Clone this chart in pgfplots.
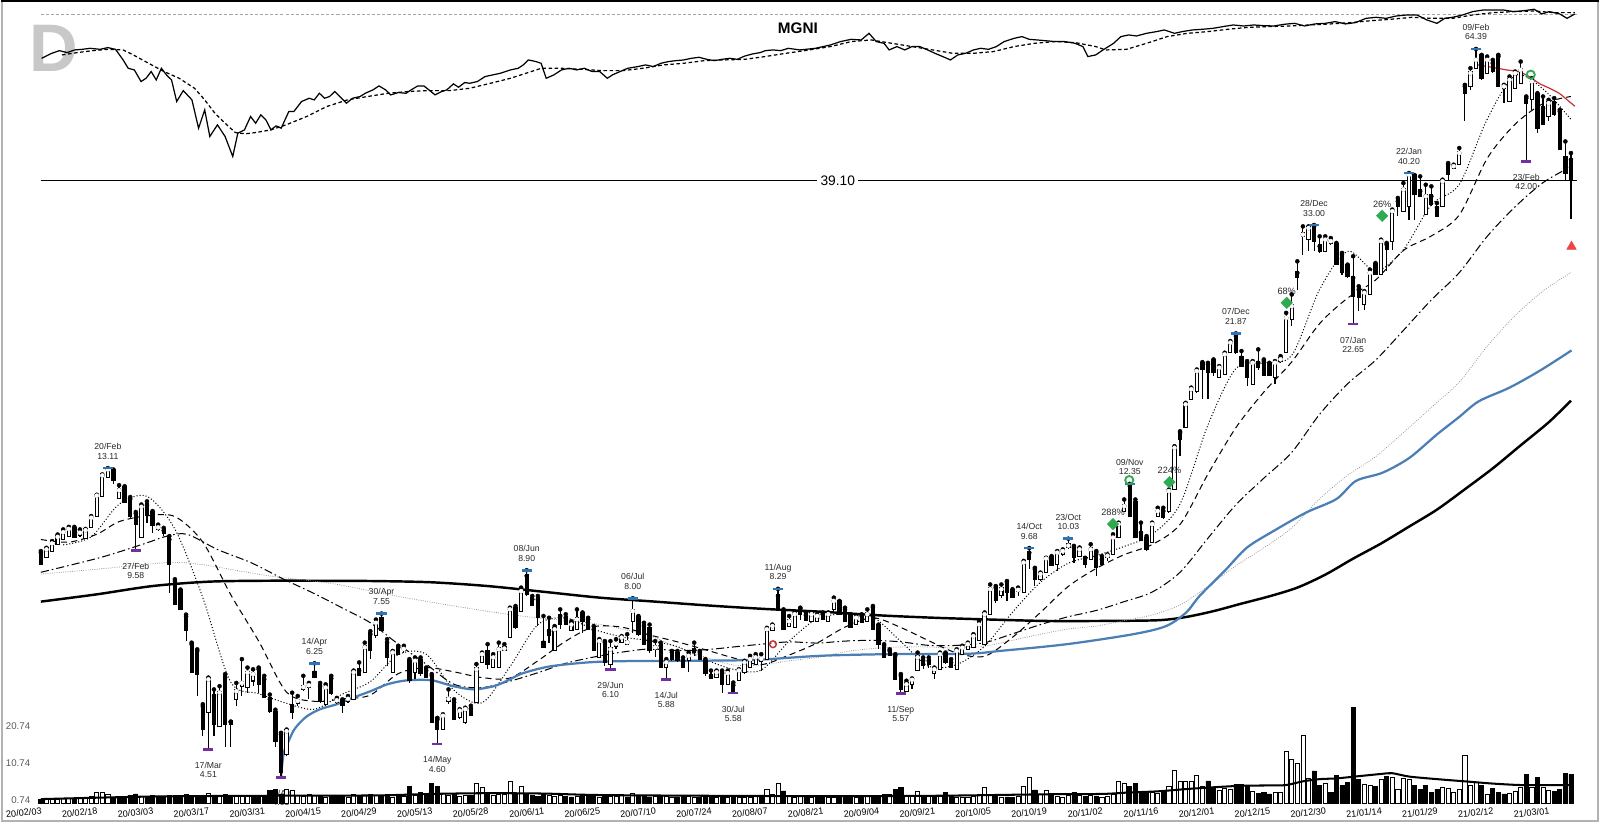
\documentclass[border=0pt]{standalone}
\usepackage{fontspec}
\setmainfont{Liberation Sans}
\usepackage{pgfplots}
\usepackage{pgfplotstable}
\pgfplotsset{compat=1.18}
\definecolor{hiblue}{RGB}{46,117,182}
\definecolor{lopurple}{RGB}{112,48,160}
\definecolor{vwap}{RGB}{74,126,181}
\definecolor{sigred}{RGB}{200,50,50}
\definecolor{trired}{RGB}{235,70,70}
\definecolor{siggreen}{RGB}{46,170,80}
\definecolor{lettergray}{RGB}{200,200,200}
\definecolor{labgray}{RGB}{40,40,40}
\newcommand\lbl{\fontsize{8.5}{10}\selectfont}

\pgfplotstableread{
i o h l c v u
0 9.51 9.57 9.07 9.16 1.1 0
1 9.41 9.69 9.33 9.63 1.2 1
2 9.63 9.94 9.57 9.85 1.0 1
3 9.88 10.19 9.85 10.10 1.2 1
4 10.06 10.39 10.00 10.28 1.3 1
5 10.19 10.49 10.15 10.41 1.4 1
6 10.41 10.49 10.06 10.13 1.3 0
7 10.22 10.39 10.10 10.26 1.5 1
8 10.10 10.41 10.06 10.36 1.4 1
9 10.54 10.93 10.52 10.86 2.0 1
10 10.97 11.85 10.93 11.81 2.9 1
11 11.85 12.80 11.75 12.75 3.0 1
12 12.72 13.11 12.64 13.04 2.6 1
13 12.96 13.04 12.33 12.57 1.8 0
14 11.75 12.29 11.71 12.06 1.6 0
15 12.17 12.24 11.49 11.56 1.9 0
16 11.66 11.75 10.79 11.00 2.2 0
17 11.03 11.10 9.58 10.65 2.6 0
18 10.13 11.42 10.06 11.32 2.0 1
19 11.40 11.56 10.65 11.04 1.8 0
20 11.04 11.14 10.26 10.62 2.1 0
21 10.45 10.58 10.32 10.47 1.7 0
22 10.35 10.45 10.13 10.30 1.9 0
23 10.00 10.13 8.17 9.16 2.3 0
24 8.54 8.60 7.82 7.87 2.2 0
25 8.22 8.27 7.67 7.72 2.0 0
26 7.47 7.52 6.80 7.11 2.4 0
27 6.72 6.76 6.03 6.07 2.1 0
28 6.55 6.59 5.52 6.03 2.3 0
29 5.31 5.35 4.74 4.89 2.0 0
30 5.21 5.92 4.51 5.88 2.8 1
31 5.52 5.66 4.74 4.98 2.2 0
32 4.95 5.73 4.92 5.59 2.0 1
33 5.92 6.00 4.54 4.98 2.4 0
34 5.00 5.01 4.54 4.98 1.9 0
35 5.48 5.80 5.31 5.62 2.1 1
36 5.75 6.35 5.52 5.80 2.0 1
37 5.73 6.15 5.59 6.03 2.3 1
38 5.88 6.11 5.73 6.00 1.8 0
39 6.11 6.15 5.59 5.80 2.0 0
40 5.88 5.96 5.48 5.52 2.2 0
41 5.45 5.55 5.17 5.24 3.5 0
42 5.17 5.24 4.54 4.68 3.9 0
43 4.77 4.80 4.05 4.15 2.6 0
44 4.45 4.86 4.40 4.83 3.9 1
45 5.31 5.59 5.05 5.21 3.6 1
46 5.40 5.52 5.31 5.42 2.2 1
47 5.70 5.96 5.62 5.71 2.0 1
48 5.73 5.80 5.45 5.75 2.4 1
49 6.03 6.25 5.92 5.96 2.2 1
50 5.73 5.80 5.38 5.45 2.0 0
51 5.38 5.77 5.32 5.70 1.8 1
52 5.90 5.96 5.55 5.60 2.3 0
53 5.41 5.48 5.35 5.43 1.9 0
54 5.42 5.45 5.18 5.35 2.1 0
55 5.44 5.52 5.38 5.46 1.7 1
56 5.48 6.08 5.45 6.04 2.4 1
57 6.08 6.27 5.96 6.00 2.0 0
58 6.08 6.76 6.04 6.64 2.2 1
59 6.98 7.06 6.35 6.59 2.5 0
60 6.98 7.38 6.89 7.29 2.3 1
61 7.40 7.55 7.06 7.11 2.1 0
62 6.76 6.85 6.19 6.43 2.0 0
63 6.08 6.55 6.04 6.51 1.8 1
64 6.64 6.68 6.47 6.51 2.2 0
65 6.59 6.68 6.51 6.60 1.9 1
66 6.27 6.35 5.81 5.89 4.6 0
67 6.08 6.39 5.89 6.31 2.1 1
68 6.31 6.39 5.96 6.04 3.0 0
69 6.08 6.15 5.92 5.96 2.2 0
70 5.96 6.00 4.99 5.02 5.5 0
71 5.05 5.08 4.60 4.90 4.6 0
72 4.90 5.15 4.87 5.12 2.8 1
73 5.44 5.66 5.35 5.46 2.2 1
74 5.39 5.45 5.05 5.08 2.6 0
75 5.12 5.25 5.05 5.22 2.0 1
76 5.02 5.28 4.96 5.25 2.3 1
77 5.26 5.32 5.12 5.15 2.1 0
78 5.41 6.23 5.38 6.11 5.4 1
79 6.31 6.51 6.27 6.47 4.3 1
80 6.51 6.72 6.11 6.27 2.4 0
81 6.19 6.47 6.15 6.39 2.2 1
82 6.19 6.76 6.15 6.59 2.5 1
83 6.60 6.72 6.55 6.61 2.6 1
84 6.93 7.72 6.89 7.67 5.9 1
85 7.67 7.77 7.11 7.20 2.8 0
86 7.67 8.33 7.58 8.22 4.6 1
87 8.71 8.90 8.07 8.17 2.5 0
88 7.97 8.07 7.77 7.82 2.3 0
89 7.97 8.07 7.20 7.48 2.0 0
90 6.76 7.48 6.64 6.68 2.4 0
91 7.06 7.43 6.76 6.98 2.1 1
92 6.59 7.20 6.55 7.11 1.9 1
93 7.48 7.67 7.11 7.29 2.2 1
94 7.43 7.53 7.24 7.29 2.0 0
95 7.11 7.33 7.06 7.24 1.8 0
96 7.15 7.67 7.11 7.38 2.0 1
97 7.53 7.58 7.02 7.38 2.2 0
98 7.38 7.43 7.11 7.15 1.9 0
99 7.11 7.20 6.55 6.59 2.1 0
100 6.43 6.85 6.39 6.80 1.8 1
101 6.76 6.80 6.19 6.31 2.3 0
102 6.27 6.80 6.10 6.59 2.0 1
103 6.70 6.85 6.59 6.73 1.9 1
104 6.80 6.93 6.76 6.89 2.6 1
105 6.75 6.98 6.70 6.77 1.8 0
106 7.38 8.00 7.02 7.62 2.8 1
107 7.43 7.48 6.93 7.02 2.2 0
108 7.20 7.29 6.72 6.76 2.0 0
109 7.11 7.24 6.51 6.59 1.8 0
110 6.62 6.80 6.39 6.64 2.0 1
111 6.68 6.76 6.15 6.19 2.3 0
112 6.19 6.35 5.88 6.27 1.9 1
113 6.51 6.55 6.31 6.39 1.7 1
114 6.47 6.55 6.27 6.35 1.8 0
115 6.31 6.39 6.15 6.19 2.0 0
116 6.35 6.51 6.04 6.43 1.9 1
117 6.56 6.76 6.43 6.55 1.6 1
118 6.51 6.55 6.35 6.39 1.8 0
119 6.27 6.35 5.96 6.04 2.1 0
120 5.95 6.08 5.89 5.94 1.7 0
121 5.96 6.08 5.92 6.04 1.6 1
122 6.02 6.08 5.59 5.81 1.9 0
123 5.81 6.08 5.77 6.02 1.8 1
124 5.75 5.81 5.58 5.66 2.0 0
125 5.89 6.11 5.85 6.08 1.7 1
126 6.08 6.31 6.00 6.27 1.6 1
127 6.19 6.43 6.15 6.35 1.8 1
128 6.27 6.47 6.23 6.39 1.9 1
129 6.34 6.47 6.08 6.36 2.0 0
130 6.39 7.15 6.35 7.11 3.9 1
131 7.11 7.24 7.06 7.20 2.4 1
132 8.07 8.29 7.67 7.72 5.5 1
133 7.62 7.67 7.11 7.15 3.4 0
134 7.24 7.48 7.20 7.33 2.0 1
135 7.20 7.58 7.15 7.53 1.8 1
136 7.69 7.72 7.38 7.58 1.9 1
137 7.50 7.58 7.33 7.40 1.7 0
138 7.38 7.58 7.33 7.53 1.6 1
139 7.38 7.53 7.33 7.48 1.8 0
140 7.53 7.58 7.38 7.43 1.7 0
141 7.38 7.58 7.33 7.53 1.6 1
142 7.72 8.02 7.62 7.92 1.8 1
143 7.87 7.92 7.53 7.58 1.9 0
144 7.67 7.72 7.33 7.38 1.7 0
145 7.48 7.53 7.15 7.20 1.8 0
146 7.29 7.48 7.24 7.43 1.6 1
147 7.48 7.53 7.29 7.33 1.7 0
148 7.38 7.67 7.33 7.53 1.9 1
149 7.72 7.77 7.11 7.15 2.0 0
150 7.20 7.24 6.59 6.76 2.2 0
151 6.68 6.72 6.39 6.43 2.4 0
152 6.55 6.59 6.43 6.47 2.6 1
153 6.43 6.47 5.89 5.92 3.9 0
154 5.96 6.00 5.57 5.70 4.3 0
155 5.66 5.85 5.62 5.77 2.0 1
156 5.80 5.90 5.66 5.87 2.2 1
157 6.11 6.51 6.08 6.39 3.4 1
158 6.31 6.39 6.11 6.23 2.0 0
159 6.31 6.39 6.15 6.27 2.2 1
160 6.04 6.15 5.89 6.11 1.8 0
161 6.15 6.51 6.11 6.47 2.0 1
162 6.47 6.51 6.23 6.31 3.0 0
163 6.27 6.35 6.15 6.19 1.9 0
164 6.15 6.59 6.11 6.55 1.6 1
165 6.51 6.68 6.47 6.63 1.8 1
166 6.63 6.76 6.59 6.72 1.7 1
167 6.68 6.98 6.63 6.93 1.9 1
168 6.85 7.34 6.80 7.24 2.1 1
169 6.76 7.58 6.72 7.53 4.3 1
170 7.58 8.43 7.53 8.28 2.5 1
171 8.33 8.38 7.87 7.97 2.0 0
172 8.12 8.43 8.02 8.28 1.7 1
173 8.51 8.54 7.92 8.23 1.8 0
174 8.23 8.28 8.02 8.07 1.6 0
175 8.25 8.33 8.07 8.26 2.0 1
176 8.23 9.22 8.17 9.16 4.6 1
177 9.51 9.68 8.93 9.33 7.0 1
178 8.93 8.98 8.38 8.66 3.7 0
179 8.66 8.82 8.54 8.77 2.4 1
180 8.88 9.33 8.82 9.30 3.7 1
181 9.33 9.39 9.04 9.10 2.2 0
182 9.16 9.57 8.88 9.51 2.0 1
183 9.49 9.63 9.39 9.57 1.8 1
184 9.75 10.03 9.63 9.77 2.3 1
185 9.70 9.76 9.16 9.39 3.0 0
186 9.45 9.70 9.39 9.63 2.1 1
187 9.30 9.33 8.98 9.16 1.9 0
188 9.33 9.82 9.28 9.63 2.2 1
189 9.51 9.57 8.71 9.04 2.0 0
190 9.28 9.39 9.10 9.16 1.8 1
191 9.38 9.45 9.22 9.40 2.0 1
192 9.51 10.20 9.45 10.07 2.5 1
193 10.13 10.66 10.07 10.60 5.9 1
194 11.21 11.64 11.14 11.35 5.5 1
195 12.25 12.35 10.93 11.00 4.6 0
196 11.50 11.64 10.07 10.13 5.5 0
197 10.26 10.66 9.95 10.01 3.0 0
198 10.01 10.13 9.57 9.70 2.8 0
199 9.95 10.66 9.88 10.60 3.1 1
200 11.00 11.28 10.93 11.14 2.7 1
201 11.14 11.28 10.80 10.93 3.0 0
202 11.21 12.09 11.07 12.02 4.6 1
203 12.17 14.25 12.09 14.16 9.1 1
204 14.99 15.08 13.72 14.71 5.9 1
205 15.37 16.80 15.28 16.70 6.1 1
206 17.14 17.80 17.03 17.69 5.9 1
207 17.65 19.07 17.46 18.95 7.5 1
208 19.44 19.61 17.03 19.20 4.6 1
209 19.44 19.56 17.03 18.95 6.1 0
210 19.69 19.81 18.60 18.95 4.0 0
211 18.60 19.32 18.48 19.20 3.6 1
212 18.83 20.32 18.72 20.19 4.1 1
213 20.45 21.24 20.32 21.11 3.9 1
214 21.65 21.87 20.19 20.45 5.2 0
215 19.94 20.45 19.32 19.44 5.2 0
216 19.56 19.69 17.91 18.60 5.0 0
217 18.14 19.69 18.02 19.56 3.3 1
218 19.56 20.58 19.07 19.32 2.8 0
219 19.69 19.81 18.60 18.72 3.0 0
220 19.44 19.56 18.60 18.72 2.6 0
221 18.60 19.69 18.02 19.56 3.1 1
222 19.80 20.06 19.56 19.82 2.9 1
223 20.45 23.64 20.32 23.20 14.0 1
224 23.20 25.35 22.48 24.25 12.0 1
225 27.51 28.75 25.83 27.17 10.9 1
226 31.80 32.83 29.49 31.82 18.3 1
227 31.41 32.83 29.87 32.62 6.8 1
228 32.83 33.00 29.87 31.21 8.8 0
229 30.44 31.61 29.68 30.06 4.9 0
230 30.06 31.61 29.87 31.21 5.5 1
231 31.00 31.41 30.63 31.04 3.1 0
232 30.63 30.83 28.39 28.57 7.5 0
233 29.49 29.68 27.34 27.69 4.8 0
234 28.22 28.39 27.00 27.34 5.7 0
235 27.00 29.31 22.65 25.35 25.9 0
236 25.83 26.15 23.79 25.18 6.6 0
237 24.56 25.67 23.94 25.51 5.2 1
238 25.51 27.86 25.35 27.51 4.9 1
239 28.39 28.57 27.34 27.51 4.6 0
240 27.51 31.21 27.34 31.02 6.6 1
241 30.63 30.83 27.69 30.25 7.3 0
242 31.23 34.99 30.07 34.77 7.0 1
243 36.11 36.57 34.11 35.66 3.9 1
244 34.99 38.70 34.77 37.74 6.8 1
245 35.66 40.20 33.69 39.95 6.6 1
246 39.69 39.90 33.69 37.26 4.8 0
247 37.50 39.69 36.80 37.03 3.9 0
248 34.55 38.46 34.33 36.80 4.9 0
249 36.80 38.22 35.43 35.88 3.0 0
250 35.21 35.88 34.11 34.33 3.8 0
251 35.66 39.20 35.43 38.95 4.3 1
252 41.49 41.75 39.20 40.20 4.1 1
253 41.22 41.49 40.97 41.25 3.0 1
254 41.75 44.20 41.49 43.37 3.9 1
255 55.83 56.18 48.90 54.78 13.1 1
256 56.18 59.85 55.13 58.73 4.9 1
257 60.23 64.39 59.85 61.77 5.7 1
258 62.56 62.96 57.26 57.99 4.8 0
259 59.10 62.56 58.73 61.77 2.6 1
260 61.00 61.77 58.73 59.47 4.1 0
261 62.56 62.96 55.83 56.18 3.0 0
262 55.80 56.18 52.42 55.85 2.6 0
263 53.08 57.99 52.75 57.26 2.8 1
264 55.83 59.10 55.48 58.73 3.3 1
265 56.90 61.38 56.54 59.47 4.3 1
266 53.42 53.76 42.00 52.75 7.9 0
267 53.42 57.62 51.11 56.90 4.3 1
268 54.10 54.44 46.78 47.98 7.0 0
269 51.43 53.76 48.28 48.59 4.3 1
270 50.15 53.08 48.90 52.42 3.5 1
271 52.42 53.42 49.83 50.47 3.2 0
272 50.79 51.11 43.92 44.20 3.9 0
273 42.55 45.32 38.95 40.45 8.2 0
274 42.28 43.37 33.77 39.45 7.9 0
}\candles

\pgfplotsset{
  frame/.style={width=1568pt, height=806pt, scale only axis,
    at={(0pt,0pt)}, anchor=south west,
    xmin=-7.174, xmax=279.06, axis line style={draw=none}, clip=false},
  hilab/.style={only marks, mark=none, forget plot, nodes near coords,
    point meta=explicit symbolic,
    nodes near coords style={font=\lbl, text=labgray, anchor=base, inner sep=0pt, yshift=#1}},
}

\begin{document}
\begin{tikzpicture}
%================ PRICE =================
\begin{axis}[frame, ymode=log, ymin=3.4266, ymax=77.546, ticks=none]
% 200-day
\addplot[black, line width=2.4pt, smooth] coordinates {
(0,7.9) (10,8.12) (20,8.38) (30,8.52) (40,8.55) (50,8.55) (60,8.54) (70,8.50) (80,8.38) (90,8.20)
(100,8.02) (110,7.90) (120,7.78) (130,7.68) (140,7.60) (150,7.50) (160,7.43) (170,7.38) (180,7.34)
(190,7.34) (200,7.36) (205,7.45) (210,7.62) (215,7.84) (220,8.06) (225,8.33) (230,8.75) (235,9.30)
(240,9.85) (245,10.5) (250,11.2) (255,12.1) (260,13.1) (265,14.3) (270,15.6) (274,16.94)};
% 100-day (gray dotted)
\addplot[gray!85, line width=0.75pt, dash pattern=on 0.8pt off 1.4pt, smooth] coordinates {
(0,8.77) (11,8.95) (22.6,9.16) (28.6,9.10) (40.5,8.72) (52.5,8.45) (62,8.12) (74,7.77) (86,7.48)
(99,7.27) (104,7.12) (109,6.94) (114,6.64) (119,6.40) (124,6.21) (129,6.21) (134,6.31) (139,6.39)
(144,6.53) (149,6.61) (154,6.65) (159,6.65) (164,6.62) (169,6.67) (174,6.82) (179,6.98) (184,7.12)
(189,7.20) (194,7.35) (199,7.51) (204,7.80) (209,8.37) (214,9.05) (219,9.69) (224,10.45) (229,11.67)
(234,12.76) (239,13.69) (244,15.01) (249,16.51) (254,18.18) (259,20.83) (264,23.39) (269,25.69) (274,27.55)};
% 50-day (dash-dot)
\addplot[black, line width=1pt, dash pattern=on 8pt off 3pt on 1.5pt off 3pt, smooth] coordinates {
(0,8.83) (10.7,9.34) (18.5,9.84) (22.6,10.13) (26.2,10.2) (31.6,9.63) (37.6,9.16) (43.5,8.6)
(49,8.14) (54,7.71) (59,7.29) (64,6.72) (69,6.23) (74,5.77) (79,5.70) (84,5.84) (89,6.03) (94,6.25)
(99,6.40) (104,6.52) (109,6.60) (114,6.56) (119,6.58) (124,6.65) (129,6.72) (134,6.78) (139,6.75)
(144,6.80) (149,6.82) (154,6.78) (159,6.69) (164,6.69) (169,6.76) (174,6.99) (179,7.24) (184,7.46)
(189,7.64) (194,7.90) (199,8.19) (204,8.83) (209,10.05) (214,11.41) (219,12.62) (224,13.92)
(229,16.09) (234,18.06) (239,19.75) (244,22.12) (249,24.83) (254,27.54) (259,31.61) (264,35.36)
(269,38.76) (274,41.19)};
% 20-day (dashed)
\addplot[black, line width=1pt, dash pattern=on 6pt off 4pt, smooth] coordinates {
(0,10.0) (5,9.9) (10,10.2) (14,10.7) (19,10.94) (24,10.91) (29,9.90) (34,8.11) (39,6.80) (44,5.60)
(49,5.41) (54,5.46) (59,5.54) (64,6.01) (69,6.15) (74,6.05) (79,5.92) (84,5.91) (89,6.31) (94,6.80)
(99,7.18) (104,7.17) (109,6.96) (114,6.78) (119,6.58) (124,6.38) (129,6.22) (134,6.45) (139,6.75)
(144,7.17) (149,7.43) (154,7.16) (159,6.81) (164,6.50) (169,6.42) (174,6.90) (179,7.58) (184,8.37)
(189,8.96) (194,9.44) (199,9.81) (204,10.59) (209,12.82) (214,15.29) (219,17.50) (224,19.63)
(229,22.70) (234,25.00) (239,26.77) (244,29.96) (249,31.66) (254,34.28) (259,42.48) (264,48.38)
(269,52.32) (274,53.76)};
% 10-day (dotted)
\addplot[black, line width=1pt, dash pattern=on 1pt off 2pt, smooth] coordinates {
(4,9.8) (9,10.10) (14,11.43) (19,11.78) (24,10.40) (29,8.02) (34,5.82) (39,5.57) (44,5.37) (49,5.25)
(54,5.56) (59,5.83) (64,6.46) (69,6.47) (74,5.64) (79,5.38) (84,6.17) (89,7.24) (94,7.42) (99,7.11)
(104,6.91) (109,6.81) (114,6.66) (119,6.34) (124,6.11) (129,6.09) (134,6.80) (139,7.40) (144,7.54)
(149,7.45) (154,6.79) (159,6.18) (164,6.22) (169,6.67) (174,7.59) (179,8.50) (184,9.14) (189,9.41)
(194,9.74) (199,10.20) (204,11.44) (209,15.45) (214,19.14) (219,19.55) (224,20.12) (229,25.84)
(234,29.87) (239,27.69) (244,30.05) (249,35.64) (254,38.50) (259,49.31) (264,58.25) (269,55.32) (274,49.27)};
% anchored line from the April low
\addplot[vwap, line width=2.2pt, smooth] coordinates {
(43,4.05) (43.5,4.45) (44.5,4.68) (45.5,4.88) (47.5,5.10) (50,5.25) (53,5.35) (56,5.49) (59,5.62)
(62,5.77) (65,5.85) (68,5.87) (70.4,5.85) (73.9,5.73) (77.5,5.66) (81.1,5.73) (83.5,5.85) (85.9,6.0)
(88.8,6.11) (91.8,6.19) (97.8,6.27) (103.7,6.30) (115.7,6.31) (127.6,6.33) (139.5,6.43) (151.5,6.47)
(165.8,6.48) (171.7,6.55) (183.7,6.72) (195.6,6.98) (201.5,7.20) (205.1,7.58) (207.5,8.07) (212,8.88)
(216,9.7) (221,10.36) (226.6,11.08) (232,11.66) (235.5,12.49) (240.3,12.89) (245.1,13.64) (250,14.9)
(253.9,15.9) (257.5,16.9) (263,17.8) (268.5,19.0) (274.1,20.5)};
% anchored line from the February high
\addplot[sigred, line width=1.2pt, smooth] coordinates {
(257.3,60.6) (259.2,60.2) (261,59.8) (262.8,59.4) (264.6,59.1) (266.5,58.0) (268.3,56.5)
(270.1,55.5) (271.9,54.4) (273.3,53.1) (274.7,51.8)};
% 39.10 level
\addplot[black, line width=0.8pt] coordinates {(0,39.1) (275,39.1)};
\addplot[only marks, mark=none, nodes near coords, point meta=explicit symbolic,
  nodes near coords style={font=\fontsize{13.5}{14}\selectfont, fill=white, anchor=center, inner sep=3pt}]
  coordinates {(142.7,39.1) [39.10]};
% wicks
\addplot[black, only marks, mark=none, forget plot,
  error bars/.cd, y dir=minus, y explicit, error mark=none,
  error bar style={line width=1.1pt, black}]
  table[x=i, y=h, y error minus expr=\thisrow{h}-\thisrow{l}] {\candles};
% down bodies
\addplot[black, only marks, mark=none, forget plot,
  restrict expr to domain={\thisrow{c}-\thisrow{o}}{-1000:-0.000001},
  error bars/.cd, y dir=minus, y explicit, error mark=none,
  error bar style={line width=4.2pt, black, line cap=rect}]
  table[x=i, y=o, y error minus expr=\thisrow{o}-\thisrow{c}] {\candles};
% up bodies
\addplot[black, only marks, mark=none, forget plot,
  restrict expr to domain={\thisrow{c}-\thisrow{o}}{0:1000},
  error bars/.cd, y dir=minus, y explicit, error mark=none,
  error bar style={line width=4.2pt, black, line cap=rect}]
  table[x=i, y=c, y error minus expr=\thisrow{c}-\thisrow{o}] {\candles};
\addplot[white, only marks, mark=none, forget plot,
  restrict expr to domain={\thisrow{c}-\thisrow{o}}{0:1000},
  error bars/.cd, y dir=minus, y explicit, error mark=none,
  error bar style={line width=2.2pt, white, line cap=rect}]
  table[x=i, y=c, y error minus expr=\thisrow{c}-\thisrow{o}] {\candles};
% swing highs
\addplot[hiblue, only marks, mark=-, mark size=5pt, every mark/.append style={line width=2.6pt}, forget plot]
 coordinates {(12,13.11) (49,6.25) (61,7.55) (87,8.90) (106,8.00) (132,8.29) (177,9.68) (184,10.03)
 (195,12.35) (214,21.87) (228,33.00) (245,40.20) (257,64.39)};
\addplot[hilab=18.3pt] coordinates {(12,13.11) [20/Feb] (49,6.25) [14/Apr] (61,7.55) [30/Apr]
 (87,8.90) [08/Jun] (106,8.00) [06/Jul] (132,8.29) [11/Aug] (177,9.68) [14/Oct] (184,10.03) [23/Oct]
 (195,12.35) [09/Nov] (214,21.87) [07/Dec] (228,33.00) [28/Dec] (245,40.20) [22/Jan] (257,64.39) [09/Feb]};
\addplot[hilab=8.8pt] coordinates {(12,13.11) [13.11] (49,6.25) [6.25] (61,7.55) [7.55]
 (87,8.90) [8.90] (106,8.00) [8.00] (132,8.29) [8.29] (177,9.68) [9.68] (184,10.03) [10.03]
 (195,12.35) [12.35] (214,21.87) [21.87] (228,33.00) [33.00] (245,40.20) [40.20] (257,64.39) [64.39]};
% swing lows
\addplot[lopurple, only marks, mark=-, mark size=5pt, every mark/.append style={line width=2.6pt}, forget plot]
 coordinates {(17,9.58) (30,4.51) (43,4.05) (71,4.60) (102,6.10) (112,5.88) (124,5.58) (154,5.57)
 (235,22.65) (266,42.00)};
\addplot[hilab=-18.5pt] coordinates {(17,9.58) [27/Feb] (30,4.51) [17/Mar] (43,4.05) [02/Apr]
 (71,4.60) [14/May] (102,6.10) [29/Jun] (112,5.88) [14/Jul] (124,5.58) [30/Jul] (154,5.57) [11/Sep]
 (235,22.65) [07/Jan] (266,42.00) [23/Feb]};
\addplot[hilab=-27.5pt] coordinates {(17,9.58) [9.58] (30,4.51) [4.51] (43,4.05) [4.05]
 (71,4.60) [4.60] (102,6.10) [6.10] (112,5.88) [5.88] (124,5.58) [5.58] (154,5.57) [5.57]
 (235,22.65) [22.65] (266,42.00) [42.00]};
% signals
\addplot[siggreen, only marks, mark=square*, mark size=4pt, mark options={rotate=45}, forget plot]
 coordinates {(192,10.6) (202.1,12.43) (223.1,24.56) (240.2,34.18)};
\addplot[only marks, mark=none, forget plot, nodes near coords, point meta=explicit symbolic,
  nodes near coords style={font=\fontsize{9}{10}\selectfont, text=labgray, anchor=base, inner sep=0pt, yshift=8.5pt}]
 coordinates {(192,10.6) [288\%] (202.1,12.43) [224\%] (223.1,24.56) [68\%] (240.2,34.18) [26\%]};
\addplot[siggreen, only marks, mark=o, mark size=4pt, every mark/.append style={line width=1.8pt}, forget plot]
 coordinates {(194.9,12.53) (266.8,58.4)};
\addplot[sigred, only marks, mark=o, mark size=3.3pt, every mark/.append style={line width=1.4pt}, forget plot]
 coordinates {(131.1,6.72)};
\addplot[trired, only marks, mark=triangle*, mark size=5.5pt, forget plot] coordinates {(274.1,30.4)};
\end{axis}

%================ RELATIVE STRENGTH PANE =================
\begin{axis}[frame, ymin=-646, ymax=160, ticks=none]
\node[font=\fontsize{66}{66}\selectfont\bfseries, text=lettergray, inner sep=0pt] at (rel axis cs:0.03316,0.9411) {D};
\node[font=\fontsize{15}{15}\selectfont\bfseries, inner sep=0pt] at (rel axis cs:0.4987,0.9653) {MGNI};
\addplot[gray!70, line width=1pt, dash pattern=on 3pt off 2pt] coordinates {(0,145.3) (275,145.3)};
\addplot[black, line width=1.2pt, dash pattern=on 3.5pt off 2.5pt] coordinates {
(3.78,106.1) (6.52,108.4) (9.26,110.3) (12.0,111.6) (14.73,111.0) (16.56,106.1) (19.3,97.9) (22.04,89.8)
(24.77,83.2) (27.51,73.4) (29.34,62.0) (31.16,48.9) (32.99,39.1) (34.8,30.0) (36.6,28.7) (38.5,30.0)
(41.2,32.6) (43.9,37.5) (47.6,45.7) (51.2,55.5) (54.9,62.0) (58.5,65.3) (62.2,68.5) (65.8,70.2)
(69.5,71.1) (73.2,71.1) (76.8,73.4) (80.5,78.3) (84.1,83.2) (87.8,89.8) (89.6,93.0) (93.2,93.0)
(96.9,92.0) (100.5,90.7) (104.2,90.7) (107.8,93.0) (111.5,96.3) (115.1,97.9) (118.8,100.5) (122.4,101.2)
(126.1,101.8) (129.7,104.5) (133.4,107.7) (137,110.5) (141.4,114.3) (145.1,119.2) (148.7,120.8)
(152.4,117.5) (156.0,114.3) (159.7,111.0) (163.3,107.7) (167.0,107.7) (170.6,109.4) (174.3,114.3)
(177.9,117.5) (181.6,119.2) (185.2,118.2) (188.9,114.3) (190.7,111.0) (194.4,111.6) (198.0,117.5)
(201.7,124.1) (205.3,127.3) (209.0,129.0) (212.6,131.3) (216.3,133.2) (219.9,133.9) (223.6,134.5)
(227.2,135.5) (230.9,136.5) (234.5,137.8) (238.2,139.7) (241.8,141.1) (245.5,143.0) (249.1,142.0)
(252.8,142.0) (256.4,145.3) (260.1,147.6) (263.7,148.6) (267.4,149.2) (271.0,147.6) (274.7,147.6)};
\addplot[black, line width=1.2pt] coordinates {
(0.13,102.8) (1.95,107.7) (3.32,110.3) (4.69,108.4) (6.06,111.0) (7.43,111.6) (8.80,112.6) (10.62,111.6)
(11.99,113.3) (13.36,111.6) (14.73,101.2) (15.64,93.0) (16.74,91.4) (17.93,80.0) (18.84,83.2) (19.75,89.8)
(20.66,81.6) (21.58,93.0) (22.49,86.5) (23.40,81.6) (24.32,60.4) (25.50,71.1) (27.05,62.0) (28.24,34.2)
(29.34,52.2) (30.25,26.1) (31.62,37.5) (32.99,26.1) (34.36,6.5) (35.27,29.3) (36.46,32.6) (37.55,45.7)
(38.46,39.1) (39.38,47.3) (40.29,42.4) (41.20,32.6) (42.12,36.5) (43.03,34.2) (44.40,50.6) (45.31,50.6)
(46.68,60.4) (48.05,63.6) (48.96,62.0) (49.87,68.5) (50.79,63.6) (51.70,65.3) (52.61,70.2) (53.52,65.3)
(54.71,58.7) (55.81,63.6) (57.17,65.3) (58.09,68.5) (59.46,71.8) (60.55,75.7) (61.74,71.8) (62.65,66.9)
(64.02,69.2) (65.39,68.5) (66.30,71.8) (67.49,75.7) (68.58,75.7) (69.50,71.8) (70.59,66.9) (71.78,70.2)
(72.69,71.8) (73.88,77.7) (74.79,74.4) (75.89,79.0) (76.80,78.3) (78.17,80.0) (79.54,84.9) (80.91,86.5)
(82.27,88.1) (84.10,91.4) (85.47,93.0) (86.38,96.3) (87.29,101.2) (88.66,99.6) (89.58,97.9) (90.49,83.2)
(91.86,86.5) (93.23,91.4) (94.60,93.0) (95.97,91.4) (97.33,93.0) (98.70,89.8) (100.07,89.8) (101.44,83.2)
(102.35,86.5) (103.72,89.8) (105.09,93.0) (106.92,94.7) (108.29,96.3) (109.66,94.7) (111.03,97.9)
(112.40,99.6) (113.76,100.5) (115.13,101.2) (116.50,102.8) (117.87,103.8) (119.24,101.8) (120.61,100.5)
(121.98,101.8) (123.35,102.8) (124.72,101.8) (126.09,105.1) (127.46,107.1) (128.82,108.4) (129.74,110.3)
(131.11,111.0) (132.48,110.3) (133.85,112.6) (135.9,111.0) (138.7,112.6) (141.4,115.9) (143.2,119.2)
(145.1,121.4) (146.9,120.8) (148.3,127.3) (149.6,119.2) (151.0,117.5) (151.9,111.0) (153.3,114.3)
(154.7,111.0) (156.0,114.3) (157.4,114.3) (158.8,111.0) (160.1,107.7) (161.5,104.5) (162.9,101.2)
(164.2,106.1) (165.6,107.7) (167.0,111.0) (168.3,112.6) (169.7,111.6) (171.1,114.3) (172.5,119.2)
(174.3,122.4) (175.7,124.1) (177.0,121.4) (178.4,120.8) (179.8,120.1) (181.6,119.2) (183.4,119.2)
(185.2,117.5) (186.6,114.3) (187.5,104.5) (188.9,106.1) (190.2,111.0) (192.1,117.5) (193.4,124.1)
(194.8,125.7) (196.2,124.7) (198.0,127.3) (199.8,129.0) (201.2,130.6) (203.0,127.3) (204.4,129.0)
(206.2,130.6) (208.1,131.3) (209.9,132.2) (211.7,133.9) (213.5,135.5) (215.4,134.5) (217.2,135.5)
(219.0,134.8) (220.8,134.5) (222.7,136.2) (224.5,137.1) (226.3,134.5) (228.1,136.5) (230.0,137.1)
(231.8,138.8) (233.6,136.5) (235.4,137.8) (237.3,142.0) (239.1,143.0) (240.9,142.0) (242.7,144.3)
(244.6,145.3) (246.4,145.3) (248.2,140.4) (250.0,137.1) (251.4,142.0) (252.8,143.0) (254.6,145.3)
(256.4,148.6) (258.3,150.2) (260.1,150.2) (261.9,150.2) (263.7,148.6) (265.6,149.5) (267.4,150.9)
(268.8,146.3) (270.1,148.6) (272.0,146.3) (273.3,142.0) (274.7,146.3)};
\end{axis}

%================ VOLUME =================
\begin{axis}[frame, ymin=-4.88, ymax=217.16,
  xtick={0,10,...,270},
  xticklabels={20/02/03,20/02/18,20/03/03,20/03/17,20/03/31,20/04/15,20/04/29,20/05/13,20/05/28,
    20/06/11,20/06/25,20/07/10,20/07/24,20/08/07,20/08/21,20/09/04,20/09/21,20/10/05,20/10/19,
    20/11/02,20/11/16,20/12/01,20/12/15,20/12/30,21/01/14,21/01/29,21/02/12,21/03/01},
  ytick={0.74,10.74,20.74}, yticklabels={0.74,10.74,20.74},
  major tick length=0pt, tick style={draw=none},
  xticklabel style={font=\fontsize{9}{10}\selectfont, anchor=east, rotate=6, yshift=10.5pt, xshift=3pt, inner sep=1pt},
  yticklabel style={font=\fontsize{9.5}{10}\selectfont, text=black!65, anchor=east, xshift=29pt, yshift=1pt, inner sep=0pt}]
\addplot[ybar, bar width=4pt, bar shift=0pt, fill=white, draw=black, line width=0.7pt,
  restrict expr to domain={\thisrow{u}}{0.5:1.5}] table[x=i, y=v] {\candles};
\addplot[ybar, bar width=4pt, bar shift=0pt, fill=black, draw=black, line width=0.7pt,
  restrict expr to domain={\thisrow{u}}{-0.5:0.5}] table[x=i, y=v] {\candles};
\addplot[black, line width=2pt, smooth] coordinates {
(0,1.2) (20,1.9) (40,2.1) (60,2.2) (70,2.6) (80,2.8) (90,2.7) (100,2.3) (120,2.1) (140,2.0) (160,2.1)
(180,2.5) (190,2.6) (195,3.0) (200,3.3) (205,3.9) (210,4.4) (215,4.8) (220,4.9) (223,5.0) (226,6.0)
(229,6.6) (232,6.8) (236,7.4) (240,8.0) (242,8.2) (245,7.3) (250,6.6) (255,6.0) (260,5.4) (265,5.0)
(270,5.0) (274,5.0)};
\draw[gray!60, line width=2pt] ([shift={(1pt,1pt)}]rel axis cs:0,0) rectangle ([shift={(-1pt,-1pt)}]rel axis cs:1,1);
\draw[black, line width=1.6pt] ([shift={(0pt,-0.8pt)}]rel axis cs:0,1) -- ([shift={(0pt,-0.8pt)}]rel axis cs:1,1);
\end{axis}
\end{tikzpicture}
\end{document}
